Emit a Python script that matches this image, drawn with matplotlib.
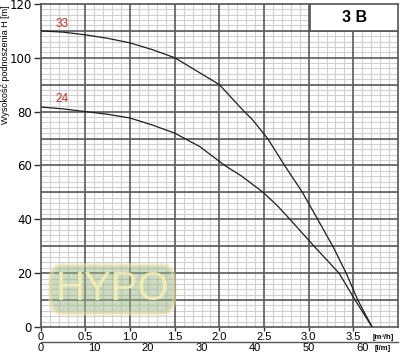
import matplotlib
matplotlib.use('Agg')
import matplotlib.pyplot as plt
from matplotlib.patches import FancyBboxPatch, Rectangle
import numpy as np

# pump curves (Q in m3/h, H in m)
q_33 = [0, 0.25, 0.5, 0.75, 1.0, 1.25, 1.5, 1.75, 2.0, 2.25, 2.37, 2.54, 2.73, 2.93, 3.10, 3.27, 3.42, 3.55, 3.71]
h_33 = [110, 109.5, 108.5, 107.2, 105.5, 103, 100, 95, 90, 81, 77, 70, 60, 50, 40, 30, 20, 10, 0]
q_24 = [0, 0.25, 0.5, 0.75, 1.0, 1.25, 1.5, 1.78, 2.06, 2.25, 2.49, 2.65, 2.79, 3.06, 3.34, 3.52, 3.71]
h_24 = [81.7, 81, 80, 79, 77.6, 75, 72, 67, 60, 56, 50, 45, 40, 30, 20, 10, 0]

q_ticks = [0, 0.5, 1.0, 1.5, 2.0, 2.5, 3.0, 3.5]
q_ticklabels = ['0', '0.5', '1.0', '1.5', '2.0', '2.5', '3.0', '3.5']
lmin_ticks = [0, 10, 20, 30, 40, 50, 60]
h_ticks = [0, 20, 40, 60, 80, 100, 120]

plt.rcParams['font.family'] = ['Liberation Sans', 'DejaVu Sans']

fig = plt.figure(figsize=(4.0, 3.52), dpi=100)
ax = fig.add_axes([0.102, 0.071, 0.893, 0.918])

ax.set_xlim(0, 4.0)
ax.set_ylim(0, 120)

# fine grid and heavy grid
ax.set_xticks(np.arange(0, 4.01, 0.1), minor=True)
ax.set_yticks(np.arange(0, 120.1, 2), minor=True)
ax.grid(which='minor', color='#d0d0d0', linewidth=0.8)
for xv in np.arange(0.5, 4.0, 0.5):
    ax.axvline(xv, color='#5a5a5a', linewidth=1.2, zorder=2)
for yv in np.arange(10, 120, 10):
    ax.axhline(yv, color='#5a5a5a', linewidth=1.2, zorder=2)
ax.tick_params(which='minor', length=0)

ax.set_xticks(q_ticks)
ax.set_xticklabels(q_ticklabels)
ax.set_yticks(h_ticks)
ax.tick_params(axis='x', which='major', labelsize=8, length=3, width=1, color='#333333', pad=0.5)
ax.tick_params(axis='y', which='major', labelsize=8.5, length=5, width=1, color='#333333', pad=1.5)
for lab in ax.get_yticklabels():
    lab.set_family('DejaVu Sans')

for s in ax.spines.values():
    s.set_color('#555555')
    s.set_linewidth(1.2)

# curves
ax.plot(q_33, h_33, color='#1e1e1e', linewidth=0.9, zorder=3)
ax.plot(q_24, h_24, color='#1e1e1e', linewidth=0.9, zorder=3)
ax.text(0.24, 112.5, '33', color='#c0302a', fontsize=8.5, ha='center', va='center', zorder=4)
ax.text(0.24, 84.5, '24', color='#c0302a', fontsize=8.5, ha='center', va='center', zorder=4)

# model box
ax.add_patch(Rectangle((3.02, 110), 0.98, 10, facecolor='white', edgecolor='#555555',
                       linewidth=1.2, zorder=5))
ax.text(3.51, 115, '3 B', fontsize=11.5, fontweight='bold', ha='center', va='center', zorder=6)

# watermark
ax.add_patch(FancyBboxPatch((0.1, 5.0), 1.4, 18, boxstyle='round,pad=0,rounding_size=0.13',
                            mutation_aspect=60, facecolor='#9db888', edgecolor='#eee0a8',
                            linewidth=3, alpha=0.5, zorder=4))
ax.text(0.8, 14, 'HYPO', fontsize=29, color='#f6eeb4', alpha=0.9, ha='center', va='center', zorder=5)

# second flow scale in l/min
sec = ax.secondary_xaxis(-0.046, functions=(lambda q: q * 1000 / 60, lambda l: l * 60 / 1000))
sec.set_xticks(lmin_ticks)
sec.tick_params(labelsize=8, length=0, width=1, color='#333333', pad=0.5)
sec.spines['bottom'].set_color('#555555')
sec.spines['bottom'].set_linewidth(1.0)

ax.text(3.83, -2.6, '[m³/h]', fontsize=5.5, fontweight='bold', ha='center', va='top', clip_on=False)
ax.text(3.83, -6.5, '[l/m]', fontsize=5.5, fontweight='bold', ha='center', va='top', clip_on=False)

fig.text(0.014, 0.815, 'Wysokość podnoszenia H [m]', rotation=90, fontsize=6.5,
         ha='center', va='center')

plt.savefig('out.png', dpi=100)
